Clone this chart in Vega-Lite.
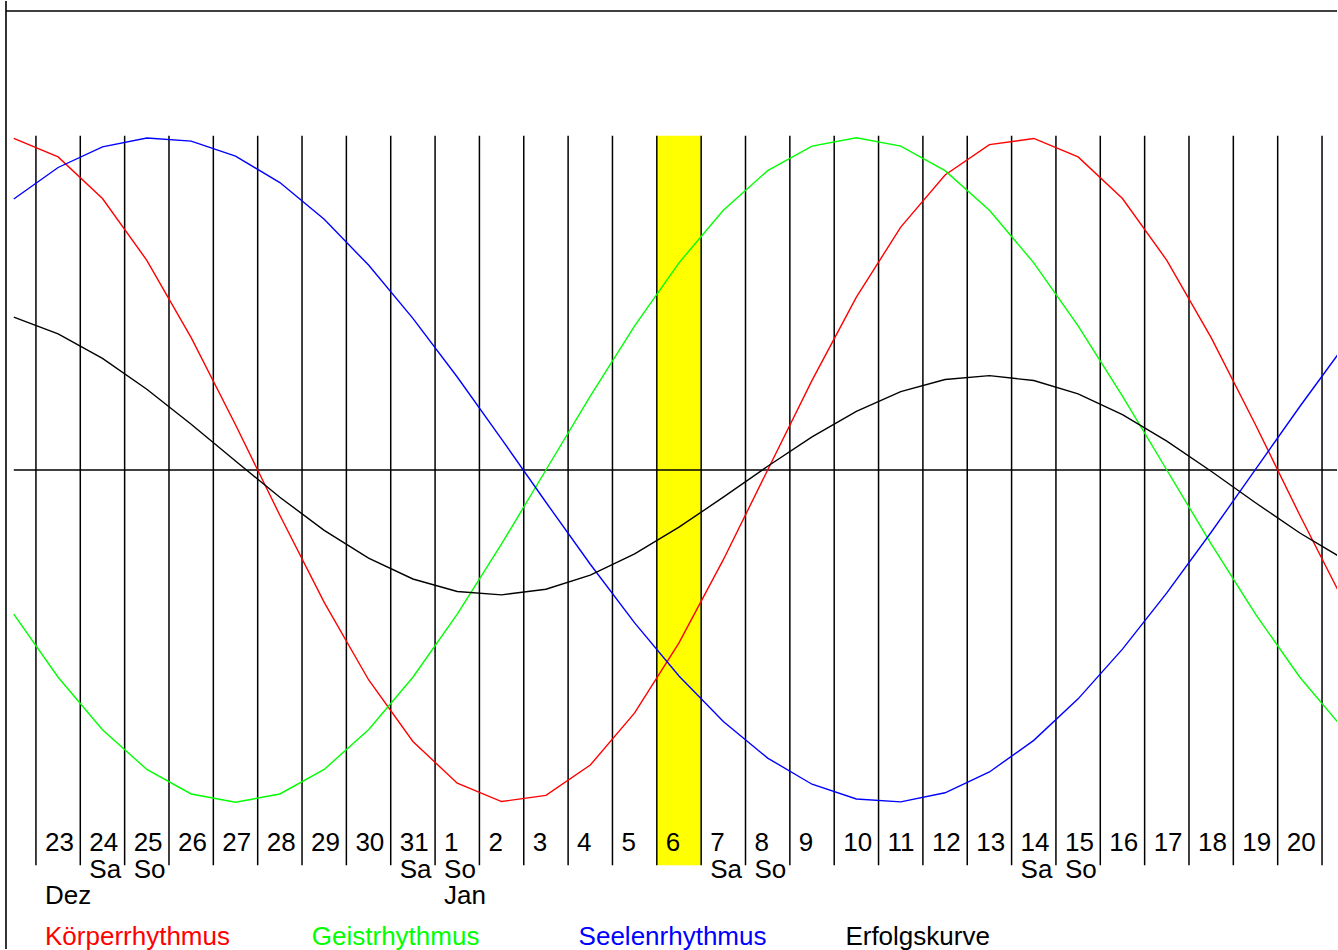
{
  "$schema": "https://vega.github.io/schema/vega-lite/v6.json",
  "width": 1338,
  "height": 950,
  "autosize": {"type": "fit", "contains": "padding"},
  "padding": 0,
  "background": "white",
  "config": {"view": {"stroke": null}, "font": "Liberation Sans"},
  "data": {"values": [
    {"date": "2011-12-22", "Körperrhythmus": 0.9977, "Geistrhythmus": -0.4339, "Seelenrhythmus": 0.8157, "Erfolgskurve": 0.4598, "tag": "", "wt": "", "mon": ""},
    {"date": "2011-12-23", "Körperrhythmus": 0.9423, "Geistrhythmus": -0.6235, "Seelenrhythmus": 0.9104, "Erfolgskurve": 0.4097, "tag": "23", "wt": "", "mon": "Dez"},
    {"date": "2011-12-24", "Körperrhythmus": 0.8170, "Geistrhythmus": -0.7818, "Seelenrhythmus": 0.9723, "Erfolgskurve": 0.3358, "tag": "24", "wt": "Sa", "mon": ""},
    {"date": "2011-12-25", "Körperrhythmus": 0.6311, "Geistrhythmus": -0.9010, "Seelenrhythmus": 0.9990, "Erfolgskurve": 0.2430, "tag": "25", "wt": "So", "mon": ""},
    {"date": "2011-12-26", "Körperrhythmus": 0.3984, "Geistrhythmus": -0.9749, "Seelenrhythmus": 0.9896, "Erfolgskurve": 0.1377, "tag": "26", "wt": "", "mon": ""},
    {"date": "2011-12-27", "Körperrhythmus": 0.1362, "Geistrhythmus": -1.0, "Seelenrhythmus": 0.9444, "Erfolgskurve": 0.0269, "tag": "27", "wt": "", "mon": ""},
    {"date": "2011-12-28", "Körperrhythmus": -0.1362, "Geistrhythmus": -0.9749, "Seelenrhythmus": 0.8651, "Erfolgskurve": -0.0820, "tag": "28", "wt": "", "mon": ""},
    {"date": "2011-12-29", "Körperrhythmus": -0.3984, "Geistrhythmus": -0.9010, "Seelenrhythmus": 0.7545, "Erfolgskurve": -0.1816, "tag": "29", "wt": "", "mon": ""},
    {"date": "2011-12-30", "Körperrhythmus": -0.6311, "Geistrhythmus": -0.7818, "Seelenrhythmus": 0.6167, "Erfolgskurve": -0.2654, "tag": "30", "wt": "", "mon": ""},
    {"date": "2011-12-31", "Körperrhythmus": -0.8170, "Geistrhythmus": -0.6235, "Seelenrhythmus": 0.4565, "Erfolgskurve": -0.3280, "tag": "31", "wt": "Sa", "mon": ""},
    {"date": "2012-01-01", "Körperrhythmus": -0.9423, "Geistrhythmus": -0.4339, "Seelenrhythmus": 0.2799, "Erfolgskurve": -0.3654, "tag": "1", "wt": "So", "mon": "Jan"},
    {"date": "2012-01-02", "Körperrhythmus": -0.9977, "Geistrhythmus": -0.2225, "Seelenrhythmus": 0.0932, "Erfolgskurve": -0.3757, "tag": "2", "wt": "", "mon": ""},
    {"date": "2012-01-03", "Körperrhythmus": -0.9791, "Geistrhythmus": 0.0, "Seelenrhythmus": -0.0970, "Erfolgskurve": -0.3587, "tag": "3", "wt": "", "mon": ""},
    {"date": "2012-01-04", "Körperrhythmus": -0.8879, "Geistrhythmus": 0.2225, "Seelenrhythmus": -0.2836, "Erfolgskurve": -0.3163, "tag": "4", "wt": "", "mon": ""},
    {"date": "2012-01-05", "Körperrhythmus": -0.7309, "Geistrhythmus": 0.4339, "Seelenrhythmus": -0.4599, "Erfolgskurve": -0.2523, "tag": "5", "wt": "", "mon": ""},
    {"date": "2012-01-06", "Körperrhythmus": -0.5200, "Geistrhythmus": 0.6235, "Seelenrhythmus": -0.6197, "Erfolgskurve": -0.1721, "tag": "6", "wt": "", "mon": ""},
    {"date": "2012-01-07", "Körperrhythmus": -0.2699, "Geistrhythmus": 0.7818, "Seelenrhythmus": -0.7570, "Erfolgskurve": -0.0817, "tag": "7", "wt": "Sa", "mon": ""},
    {"date": "2012-01-08", "Körperrhythmus": 0.0, "Geistrhythmus": 0.9010, "Seelenrhythmus": -0.8670, "Erfolgskurve": 0.0113, "tag": "8", "wt": "So", "mon": ""},
    {"date": "2012-01-09", "Körperrhythmus": 0.2699, "Geistrhythmus": 0.9749, "Seelenrhythmus": -0.9456, "Erfolgskurve": 0.0997, "tag": "9", "wt": "", "mon": ""},
    {"date": "2012-01-10", "Körperrhythmus": 0.5200, "Geistrhythmus": 1.0, "Seelenrhythmus": -0.9901, "Erfolgskurve": 0.1766, "tag": "10", "wt": "", "mon": ""},
    {"date": "2012-01-11", "Körperrhythmus": 0.7309, "Geistrhythmus": 0.9749, "Seelenrhythmus": -0.9988, "Erfolgskurve": 0.2357, "tag": "11", "wt": "", "mon": ""},
    {"date": "2012-01-12", "Körperrhythmus": 0.8879, "Geistrhythmus": 0.9010, "Seelenrhythmus": -0.9714, "Erfolgskurve": 0.2725, "tag": "12", "wt": "", "mon": ""},
    {"date": "2012-01-13", "Körperrhythmus": 0.9791, "Geistrhythmus": 0.7818, "Seelenrhythmus": -0.9088, "Erfolgskurve": 0.2840, "tag": "13", "wt": "", "mon": ""},
    {"date": "2012-01-14", "Körperrhythmus": 0.9977, "Geistrhythmus": 0.6235, "Seelenrhythmus": -0.8135, "Erfolgskurve": 0.2692, "tag": "14", "wt": "Sa", "mon": ""},
    {"date": "2012-01-15", "Körperrhythmus": 0.9423, "Geistrhythmus": 0.4339, "Seelenrhythmus": -0.6887, "Erfolgskurve": 0.2292, "tag": "15", "wt": "So", "mon": ""},
    {"date": "2012-01-16", "Körperrhythmus": 0.8170, "Geistrhythmus": 0.2225, "Seelenrhythmus": -0.5390, "Erfolgskurve": 0.1668, "tag": "16", "wt": "", "mon": ""},
    {"date": "2012-01-17", "Körperrhythmus": 0.6311, "Geistrhythmus": 0.0, "Seelenrhythmus": -0.3699, "Erfolgskurve": 0.0871, "tag": "17", "wt": "", "mon": ""},
    {"date": "2012-01-18", "Körperrhythmus": 0.3984, "Geistrhythmus": -0.2225, "Seelenrhythmus": -0.1874, "Erfolgskurve": -0.0038, "tag": "18", "wt": "", "mon": ""},
    {"date": "2012-01-19", "Körperrhythmus": 0.1362, "Geistrhythmus": -0.4339, "Seelenrhythmus": 0.0019, "Erfolgskurve": -0.0986, "tag": "19", "wt": "", "mon": ""},
    {"date": "2012-01-20", "Körperrhythmus": -0.1362, "Geistrhythmus": -0.6235, "Seelenrhythmus": 0.1911, "Erfolgskurve": -0.1895, "tag": "20", "wt": "", "mon": ""},
    {"date": "2012-01-21", "Körperrhythmus": -0.3984, "Geistrhythmus": -0.7818, "Seelenrhythmus": 0.3734, "Erfolgskurve": -0.2689, "tag": "", "wt": "", "mon": ""}
  ]},
  "layer": [
    {
      "data": {"values": [{"start": "2012-01-06", "end": "2012-01-07"}]},
      "mark": {"type": "rect", "color": "#ffff00", "clip": true},
      "encoding": {
        "x": {"field": "start", "type": "temporal", "scale": {"type": "utc", "domain": [
          {"year": 2011, "month": 12, "date": 22, "hours": 5, "minutes": 5, "seconds": 19, "utc": true},
          {"year": 2012, "month": 1, "date": 21, "hours": 8, "minutes": 6, "seconds": 18, "utc": true}]}, "axis": null},
        "x2": {"field": "end"},
        "y": {"datum": 1.00601, "type": "quantitative", "scale": {"domain": [-1.44144, 1.41141], "nice": false, "zero": false}, "axis": null},
        "y2": {"datum": -1.18919}
      }
    },
    {
      "mark": {"type": "rule", "color": "black", "strokeWidth": 1.5, "clip": true},
      "encoding": {
        "x": {"field": "date", "type": "temporal", "scale": {"type": "utc"}, "axis": null},
        "y": {"datum": 1.00601, "type": "quantitative"},
        "y2": {"datum": -1.18919}
      }
    },
    {
      "data": {"values": [{}]},
      "mark": {"type": "rule", "color": "black", "strokeWidth": 1.5, "clip": true},
      "encoding": {
        "x": {"datum": {"year": 2011, "month": 12, "date": 22, "hours": 12, "utc": true}, "type": "temporal", "scale": {"type": "utc"}},
        "x2": {"datum": {"year": 2012, "month": 1, "date": 21, "hours": 8, "minutes": 6, "seconds": 18, "utc": true}},
        "y": {"datum": 0, "type": "quantitative"}
      }
    },
    {
      "data": {"values": [{}]},
      "mark": {"type": "rule", "color": "black", "strokeWidth": 1.6},
      "encoding": {
        "x": {"datum": {"year": 2011, "month": 12, "date": 22, "hours": 7, "minutes": 47, "seconds": 25, "utc": true}, "type": "temporal", "scale": {"type": "utc"}}
      }
    },
    {
      "data": {"values": [{}]},
      "mark": {"type": "rule", "color": "black", "strokeWidth": 1.6},
      "encoding": {
        "x": {"datum": {"year": 2011, "month": 12, "date": 22, "hours": 7, "minutes": 47, "seconds": 25, "utc": true}, "type": "temporal", "scale": {"type": "utc"}},
        "x2": {"datum": {"year": 2012, "month": 1, "date": 21, "hours": 8, "minutes": 6, "seconds": 18, "utc": true}},
        "y": {"datum": 1.38138, "type": "quantitative"}
      }
    },
    {
      "transform": [{"fold": ["Körperrhythmus", "Geistrhythmus", "Seelenrhythmus", "Erfolgskurve"], "as": ["kurve", "wert"]}],
      "mark": {"type": "line", "strokeWidth": 1.4, "clip": true},
      "encoding": {
        "x": {"field": "date", "type": "temporal", "timeUnit": "utcyearmonthdate", "bandPosition": 0.5, "scale": {"type": "utc"}},
        "y": {"field": "wert", "type": "quantitative"},
        "color": {
          "field": "kurve", "type": "nominal",
          "scale": {"domain": ["Körperrhythmus", "Geistrhythmus", "Seelenrhythmus", "Erfolgskurve"], "range": ["#ff0000", "#00ff00", "#0000ff", "#000000"]},
          "legend": {
            "orient": "none", "legendX": 18, "legendY": 931, "direction": "horizontal", "columns": 4,
            "title": null, "padding": 0, "gridAlign": "all", "columnPadding": 52.8,
            "symbolSize": 0, "symbolStrokeWidth": 0, "symbolOpacity": 0,
            "labelFont": "Liberation Sans", "labelFontSize": 26, "labelBaseline": "alphabetic", "labelOffset": 0, "labelLimit": 400,
            "encode": {"labels": {"update": {"fill": {"scale": "color", "field": "value"}}}}
          }
        }
      }
    },
    {
      "mark": {"type": "text", "align": "left", "baseline": "alphabetic", "dx": 9, "fontSize": 26, "font": "Liberation Sans", "color": "black"},
      "encoding": {
        "x": {"field": "date", "type": "temporal", "scale": {"type": "utc"}},
        "y": {"datum": -1.14715, "type": "quantitative"},
        "text": {"field": "tag"}
      }
    },
    {
      "mark": {"type": "text", "align": "left", "baseline": "alphabetic", "dx": 9, "fontSize": 26, "font": "Liberation Sans", "color": "black"},
      "encoding": {
        "x": {"field": "date", "type": "temporal", "scale": {"type": "utc"}},
        "y": {"datum": -1.22673, "type": "quantitative"},
        "text": {"field": "wt"}
      }
    },
    {
      "mark": {"type": "text", "align": "left", "baseline": "alphabetic", "dx": 9, "fontSize": 26, "font": "Liberation Sans", "color": "black"},
      "encoding": {
        "x": {"field": "date", "type": "temporal", "scale": {"type": "utc"}},
        "y": {"datum": -1.30631, "type": "quantitative"},
        "text": {"field": "mon"}
      }
    }
  ]
}
